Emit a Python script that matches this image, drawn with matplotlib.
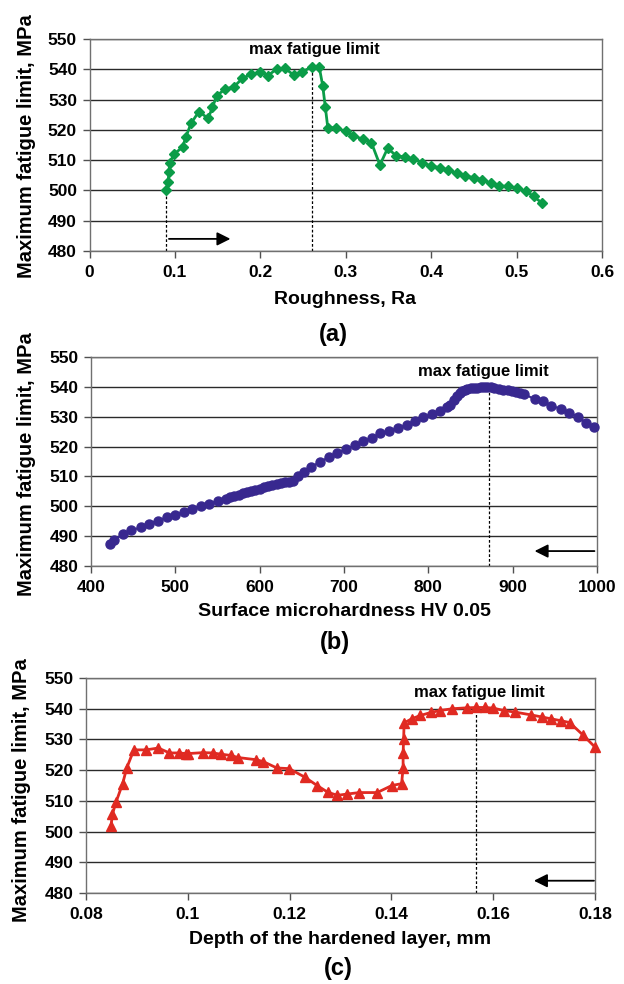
import matplotlib
matplotlib.use("Agg")
import matplotlib.pyplot as plt

plt.rcParams['font.family'] = ['Liberation Sans', 'DejaVu Sans']
plt.rcParams['font.weight'] = 'bold'

# (a) fatigue limit vs. surface roughness
ra = [0.090, 0.092, 0.093, 0.094, 0.099, 0.109, 0.113, 0.119, 0.128, 0.139,
      0.144, 0.149, 0.159, 0.169, 0.179, 0.189, 0.200, 0.209, 0.219, 0.229,
      0.239, 0.249, 0.260, 0.269, 0.273, 0.276, 0.279, 0.289, 0.300, 0.309,
      0.320, 0.330, 0.340, 0.349, 0.359, 0.369, 0.379, 0.389, 0.400, 0.410,
      0.420, 0.430, 0.440, 0.450, 0.460, 0.470, 0.480, 0.490, 0.500, 0.511,
      0.520, 0.530]
sigma_ra = [500.0, 502.9, 506.0, 509.2, 512.0, 514.3, 517.8, 522.2, 526.0, 523.8,
            527.5, 531.3, 533.5, 534.2, 537.0, 538.3, 539.0, 537.9, 540.1, 540.3,
            538.1, 539.2, 540.7, 540.7, 534.6, 527.7, 520.7, 520.7, 519.5, 518.1,
            516.9, 515.8, 508.4, 513.9, 511.5, 511.0, 510.4, 509.2, 508.1, 507.5,
            506.7, 505.7, 504.8, 504.2, 503.5, 502.4, 501.5, 501.3, 500.7, 499.8,
            498.0, 495.8]

# (b) fatigue limit vs. surface microhardness
hv = [423, 427, 438, 448, 459, 469, 479, 490, 500, 510, 520, 530, 540, 550,
      560, 565, 570, 575, 580, 585, 590, 595, 600, 605, 610, 615, 620, 625,
      630, 635, 640, 645, 652, 661, 672, 682, 692, 702, 713, 723, 733, 743,
      753, 764, 775, 784, 794, 804, 814, 822, 826, 830, 834, 837, 840, 843,
      846, 850, 854, 858, 862, 866, 870, 874, 878, 884, 889, 894, 899, 904,
      909, 914, 926, 936, 946, 957, 967, 977, 987, 997]
sigma_hv = [487.3, 488.7, 490.6, 491.9, 493.0, 494.2, 495.2, 496.3, 497.2, 498.1,
            499.1, 500.0, 500.9, 501.7, 502.6, 503.0, 503.5, 503.9, 504.3, 504.7,
            505.1, 505.5, 505.9, 506.3, 506.7, 507.0, 507.4, 507.7, 508.0, 508.3,
            508.6, 510.0, 511.4, 513.1, 515.0, 516.4, 517.8, 519.1, 520.4, 521.8,
            523.0, 524.4, 525.2, 526.2, 527.3, 528.7, 529.8, 530.9, 532.0, 533.3,
            534.0, 535.6, 537.0, 538.0, 538.7, 539.0, 539.3, 539.5, 539.6, 539.7,
            539.8, 539.9, 540.0, 539.9, 539.7, 539.4, 539.1, 538.9, 538.7, 538.4,
            538.0, 537.5, 535.9, 535.1, 533.7, 532.6, 531.4, 530.0, 528.0, 526.4]

# (c) fatigue limit vs. depth of the hardened layer
depth = [0.0849, 0.0852, 0.0859, 0.0872, 0.0880, 0.0894, 0.0918, 0.0942, 0.0964, 0.0982,
         0.0996, 0.1001, 0.1030, 0.1049, 0.1065, 0.1084, 0.1099, 0.1134, 0.1148, 0.1175,
         0.1199, 0.1230, 0.1254, 0.1275, 0.1294, 0.1312, 0.1337, 0.1372, 0.1401, 0.1420,
         0.1423, 0.1423, 0.1424, 0.1425, 0.1441, 0.1457, 0.1478, 0.1495, 0.1520, 0.1549,
         0.1567, 0.1584, 0.1600, 0.1621, 0.1643, 0.1674, 0.1696, 0.1714, 0.1733, 0.1750,
         0.1776, 0.1800]
sigma_depth = [501.7, 505.7, 509.6, 515.6, 520.7, 526.6, 526.6, 527.2, 525.6, 525.6,
               525.4, 525.4, 525.7, 525.6, 525.2, 524.8, 524.1, 523.4, 522.8, 520.7,
               520.5, 517.7, 515.0, 512.8, 511.8, 512.2, 512.7, 512.7, 515.0, 515.6,
               520.7, 525.6, 530.1, 535.4, 536.8, 537.8, 538.8, 539.4, 540.0, 540.3,
               540.4, 540.4, 540.2, 539.4, 538.9, 538.0, 537.3, 536.7, 536.1, 535.5,
               531.5, 527.5]

y_ticks = [480, 490, 500, 510, 520, 530, 540, 550]
ra_ticks = [0, 0.1, 0.2, 0.3, 0.4, 0.5, 0.6]
ra_labels = ['0', '0.1', '0.2', '0.3', '0.4', '0.5', '0.6']
hv_ticks = [400, 500, 600, 700, 800, 900, 1000]
depth_ticks = [0.08, 0.1, 0.12, 0.14, 0.16, 0.18]
depth_labels = ['0.08', '0.1', '0.12', '0.14', '0.16', '0.18']

W, H = 624, 984
fig = plt.figure(figsize=(W / 100, H / 100), dpi=100)
fig.patch.set_facecolor('white')


def px_axes(left, top, right, bottom):
    return fig.add_axes([left / W, 1 - bottom / H, (right - left) / W, (bottom - top) / H])


def ftext(x, y, s, size, **kw):
    fig.text(x / W, 1 - y / H, s, ha='center', va='center',
             fontsize=size, fontweight='bold', **kw)


TICK_FS = 12.5
XLABEL_FS = 14
YLABEL_FS = 14.5
PANEL_FS = 17
NOTE_FS = 12


def style(ax, xlim, xticks, xlabels):
    ax.set_xlim(*xlim)
    ax.set_ylim(480, 550)
    ax.set_yticks(y_ticks)
    ax.set_xticks(xticks)
    ax.set_xticklabels(xlabels)
    ax.yaxis.grid(True, color='#2a2a2a', lw=1.0)
    ax.set_axisbelow(True)
    for s in ax.spines.values():
        s.set_color('#707070')
        s.set_linewidth(1.0)
    ax.tick_params(axis='both', direction='out', length=5, width=1,
                   color='#505050', labelsize=TICK_FS)
    ax.tick_params(axis='x', pad=5)
    ax.tick_params(axis='y', pad=4)
    for lab in ax.get_xticklabels() + ax.get_yticklabels():
        lab.set_fontweight('bold')


def arrow(ax, x0, x1, y):
    ax.annotate('', xy=(x1, y), xytext=(x0, y),
                arrowprops=dict(arrowstyle='-|>', color='black', lw=1.3,
                                mutation_scale=20, shrinkA=0, shrinkB=0))


dash = (0, (2.2, 1.6))
YLABEL = 'Maximum fatigue limit, MPa'

# ---- (a)
ax1 = px_axes(89.5, 39, 602, 251)
style(ax1, (0, 0.6), ra_ticks, ra_labels)
ax1.plot(ra, sigma_ra, color='#0b9c48', lw=2, marker='D', markersize=5.5,
         markeredgecolor='#0b9c48', zorder=3)
ax1.plot([ra[0], ra[0]], [480, sigma_ra[0]], color='black', lw=0.9, ls=dash, zorder=2)
ax1.plot([ra[22], ra[22]], [480, sigma_ra[22]], color='black', lw=0.9, ls=dash, zorder=2)
arrow(ax1, 0.093, 0.165, 484)
ax1.text(0.2635, 546.4, 'max fatigue limit', ha='center', va='center',
         fontsize=NOTE_FS, fontweight='bold')
ftext(345, 299, 'Roughness, Ra', XLABEL_FS)
ftext(333, 335, '(a)', PANEL_FS)
ftext(27, 146, YLABEL, YLABEL_FS, rotation=90)

# ---- (b)
ax2 = px_axes(91, 357, 597, 566)
style(ax2, (400, 1000), hv_ticks, [str(t) for t in hv_ticks])
ax2.plot(hv, sigma_hv, color='#38288f', lw=1.5, marker='o', markersize=6.5,
         markeredgecolor='#38288f', zorder=3, clip_on=False)
ax2.plot([872, 872], [480, 540.0], color='black', lw=0.9, ls=dash, zorder=2)
arrow(ax2, 997, 926, 485)
ax2.text(865, 545.3, 'max fatigue limit', ha='center', va='center',
         fontsize=NOTE_FS, fontweight='bold')
ftext(344, 612, 'Surface microhardness HV 0.05', XLABEL_FS)
ftext(335, 643, '(b)', PANEL_FS)
ftext(27, 464, YLABEL, YLABEL_FS, rotation=90)

# ---- (c)
ax3 = px_axes(86, 678, 595, 893)
style(ax3, (0.08, 0.18), depth_ticks, depth_labels)
ax3.plot(depth, sigma_depth, color='#e02a22', lw=2, marker='^', markersize=7,
         markeredgecolor='#e02a22', zorder=3, clip_on=False)
ax3.plot([0.1567, 0.1567], [480, 540.4], color='black', lw=0.9, ls=dash, zorder=2)
arrow(ax3, 0.1798, 0.168, 484)
ax3.text(0.1573, 545.3, 'max fatigue limit', ha='center', va='center',
         fontsize=NOTE_FS, fontweight='bold')
ftext(340, 940, 'Depth of the hardened layer, mm', XLABEL_FS)
ftext(338, 969, '(c)', PANEL_FS)
ftext(22, 790, YLABEL, YLABEL_FS, rotation=90)

fig.savefig('out.png', dpi=100, facecolor='white')
